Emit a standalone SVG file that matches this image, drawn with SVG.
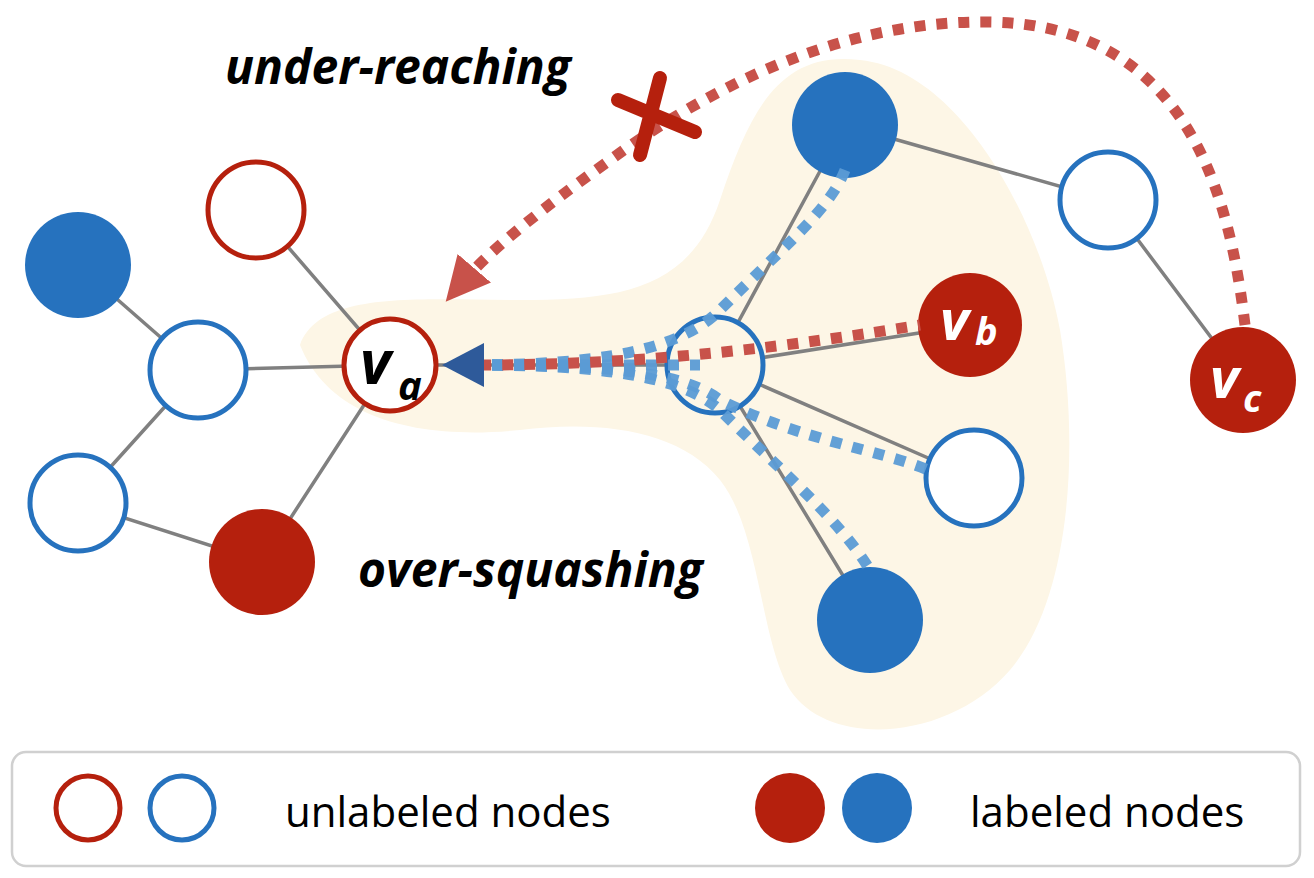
<svg xmlns="http://www.w3.org/2000/svg" width="1314" height="878" viewBox="0 0 1314 878">
<style>
.e{stroke:#808080;stroke-width:3.5;fill:none}
.uh{fill:#fff;stroke-width:5}
.r{stroke:#b5200d}.b{stroke:#2672be}
.fr{fill:#b5200d}.fb{fill:#2672be}
.dr{stroke:#c8524a;stroke-width:11;stroke-dasharray:11 11;fill:none}
.db{stroke:#5b9bd5;stroke-width:11;stroke-dasharray:11 11;fill:none;opacity:0.95}
.t{font-family:"Open Sans","Liberation Sans",sans-serif;font-weight:bold;font-style:italic;font-size:48px}
.lt{font-family:"Open Sans","Liberation Sans",sans-serif;font-size:42px}
.nl{font-family:"Open Sans","Liberation Sans",sans-serif;font-weight:bold;font-style:italic}
</style>
<defs>
<marker id="ar" markerWidth="4" markerHeight="4" refX="2" refY="2" orient="auto" markerUnits="strokeWidth"><path d="M0,0 L4,2 L0,4Z" fill="#c8524a"/></marker>
</defs>
<path d="M300,345 C320,290 420,300 520,300 C620,300 690,290 720,200 C750,110 780,50 860,60 C960,70 1040,220 1060,330 C1080,450 1070,600 1010,670 C950,740 830,750 790,690 C760,640 760,530 720,480 C680,430 600,420 520,430 C420,440 330,420 300,345 Z" fill="#fdf6e6"/>
<g id="connectors">
<path class="e" d="M256,210 L390,365 M78,265 L198,370 M198,370 L390,365 M198,370 L78,503 M78,503 L262,562 M390,365 L262,562 M390,365 L715,365 M715,365 L845,125 M845,125 L1108,200 M1108,200 L1243,380 M715,365 L970,325 M715,365 L974,478 M715,365 L870,620"/>
</g>
<g id="n1"><circle cx="256" cy="210" r="48" class="uh r"/></g>
<g id="n2"><circle cx="78" cy="265" r="53" class="fb"/></g>
<g id="n3"><circle cx="198" cy="370" r="48" class="uh b"/></g>
<g id="n4"><circle cx="78" cy="503" r="48" class="uh b"/></g>
<g id="n5"><circle cx="262" cy="562" r="53" class="fr"/></g>
<g id="va"><circle cx="390" cy="365" r="46" class="uh r" stroke-width="6"/><text x="360" y="384" class="nl" font-size="60">v</text><text x="398" y="400" class="nl" font-size="40">a</text></g>
<g id="nc"><circle cx="715" cy="365" r="48" class="b" stroke-width="5" fill="#fdf6e6"/></g>
<g id="n6"><circle cx="845" cy="125" r="53" class="fb"/></g>
<g id="n7"><circle cx="1108" cy="200" r="48" class="uh b"/></g>
<g id="vb"><circle cx="970" cy="325" r="52" class="fr"/><text x="940" y="340" class="nl" font-size="56" fill="#fff">v</text><text x="975" y="345" class="nl" font-size="38" fill="#fff">b</text></g>
<g id="vc"><circle cx="1243" cy="380" r="53" class="fr"/><text x="1210" y="398" class="nl" font-size="56" fill="#fff">v</text><text x="1243" y="412" class="nl" font-size="38" fill="#fff">c</text></g>
<g id="n8"><circle cx="974" cy="478" r="48" class="uh b"/></g>
<g id="n9"><circle cx="870" cy="620" r="53" class="fb"/></g>
<g id="paths">
<path class="db" d="M470,365 C600,365 680,350 720,310 C780,250 830,210 845,170"/>
<path class="db" d="M470,365 C600,365 680,370 720,400 C800,440 880,450 928,470"/>
<path class="db" d="M470,365 C600,365 680,375 720,410 C780,470 840,520 870,570"/>
<path class="db" d="M470,365 L700,365"/>
<path class="dr" d="M480,365 C650,365 800,345 920,325"/>
<path class="dr" d="M1245,325 C1230,200 1190,25 990,22 C850,20 720,80 610,160 C540,210 490,250 460,285" marker-end="url(#ar)"/>
<path d="M442,365 L484,343 L484,387 Z" fill="#2e5a9a"/>
<path d="M618,100 L695,132 M640,155 L660,78" stroke="#b5200d" stroke-width="14" stroke-linecap="round"/>
</g>
<text x="225" y="84" class="t">under-reaching</text>
<text x="358" y="587" class="t">over-squashing</text>
<g id="legend">
<rect x="12" y="752" width="1288" height="114" rx="14" fill="#fff" stroke="#d0d0d0" stroke-width="2.5"/>
<circle cx="88" cy="808" r="32" class="uh r"/>
<circle cx="182" cy="808" r="32" class="uh b"/>
<text x="285" y="827" class="lt">unlabeled nodes</text>
<circle cx="790" cy="808" r="35" class="fr"/>
<circle cx="877" cy="808" r="35" class="fb"/>
<text x="970" y="827" class="lt">labeled nodes</text>
</g>
</svg>
